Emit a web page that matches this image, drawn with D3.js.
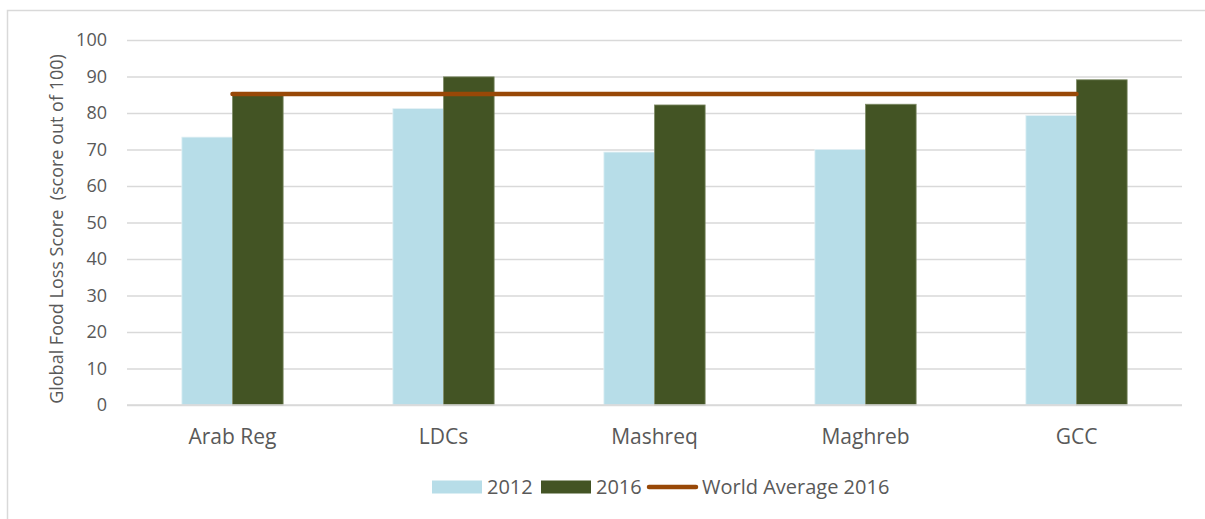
<!DOCTYPE html>
<html>
<head>
<meta charset="utf-8">
<script src="https://cdn.jsdelivr.net/npm/d3@7"></script>
<style>
  body { margin: 0; background: #fff; }
  svg text { font-family: "Open Sans", sans-serif; fill: #595959; }
</style>
</head>
<body>
<div id="chart"></div>
<script>
// chart data
var categories = ["Arab Reg", "LDCs", "Mashreq", "Maghreb", "GCC"];
var values2012 = [73.4, 81.2, 69.3, 70.0, 79.3];
var values2016 = [85.0, 89.9, 82.2, 82.4, 89.1];
var worldAvg2016 = [85.2, 85.2, 85.2, 85.2, 85.2];
var yTicks = [0, 10, 20, 30, 40, 50, 60, 70, 80, 90, 100];
var seriesNames = ["2012", "2016", "World Average 2016"];

var svgWidth = 1205;
var svgHeight = 519;

var margin = { top: 40, right: 23, bottom: 114, left: 127 };
var width = svgWidth - margin.left - margin.right;
var height = svgHeight - margin.top - margin.bottom;

var colors = { c2012: "#b7dde8", c2016: "#435424", avg: "#984807", grid: "#d9d9d9" };

var $svg = d3.select("#chart").append("svg")
  .attr("width", svgWidth)
  .attr("height", svgHeight);

// outer chart frame
$svg.append("rect")
  .attr("x", 7.5).attr("y", 10.5)
  .attr("width", svgWidth).attr("height", svgHeight)
  .attr("fill", "none")
  .attr("stroke", colors.grid)
  .attr("stroke-width", 1.5);

var chartGroup = $svg.append("g")
  .attr("transform", `translate(${margin.left}, ${margin.top})`);

var x = d3.scaleBand().domain(categories).range([0, width]);
var y = d3.scaleLinear().domain([0, 100]).range([height, 0]);
var barW = x.bandwidth() * 0.24;

// gridlines + y labels
var yAxis = d3.axisLeft(y).tickValues(yTicks).tickSize(-width).tickPadding(20);
var yG = chartGroup.append("g").call(yAxis);
yG.select(".domain").remove();
yG.selectAll(".tick line").attr("stroke", colors.grid).attr("stroke-width", 1.5);
yG.selectAll(".tick text").attr("font-size", "18px").attr("fill", "#595959");

// 2012 bars
chartGroup.selectAll("rect.b2012")
  .data(values2012)
  .enter().append("rect")
  .attr("class", "b2012")
  .attr("x", (d, i) => x(categories[i]) + x.bandwidth() / 2 - barW)
  .attr("y", d => y(d))
  .attr("width", barW)
  .attr("height", d => height - y(d))
  .attr("fill", colors.c2012)
  .attr("stroke", "#e4f1f5")
  .attr("stroke-width", 0.8);

// 2016 bars
chartGroup.selectAll("rect.b2016")
  .data(values2016)
  .enter().append("rect")
  .attr("class", "b2016")
  .attr("x", (d, i) => x(categories[i]) + x.bandwidth() / 2)
  .attr("y", d => y(d))
  .attr("width", barW)
  .attr("height", d => height - y(d))
  .attr("fill", colors.c2016)
  .attr("stroke", "#7e8b66")
  .attr("stroke-width", 0.8);

// baseline
chartGroup.append("line")
  .attr("x1", 0).attr("x2", width)
  .attr("y1", height).attr("y2", height)
  .attr("stroke", colors.grid).attr("stroke-width", 1.5);

// x labels
var xAxis = d3.axisBottom(x).tickSize(0).tickPadding(22);
var xG = chartGroup.append("g").attr("transform", `translate(0, ${height})`).call(xAxis);
xG.select(".domain").remove();
xG.selectAll(".tick text").attr("font-size", "21px").attr("fill", "#595959")
  .attr("dy", null).attr("y", 39);

// world average line
var line = d3.line()
  .x((d, i) => x(categories[i]) + x.bandwidth() / 2)
  .y(d => y(d));
chartGroup.append("path")
  .datum(worldAvg2016)
  .attr("d", line)
  .attr("fill", "none")
  .attr("stroke", colors.avg)
  .attr("stroke-width", 4.5)
  .attr("stroke-linecap", "round");

// y axis title
$svg.append("text")
  .attr("transform", "translate(63, 229) rotate(-90)")
  .attr("text-anchor", "middle")
  .attr("font-size", "18px")
  .text("Global Food Loss Score  (score out of 100)")
  .attr("xml:space", "preserve")
  .style("white-space", "pre");

// legend
var legend = $svg.append("g").attr("transform", "translate(432, 487)");
var legendItems = [
  { name: seriesNames[0], type: "rect", color: colors.c2012, x: 0 },
  { name: seriesNames[1], type: "rect", color: colors.c2016, x: 109 },
  { name: seriesNames[2], type: "line", color: colors.avg, x: 215 }
];
legendItems.forEach(function(item) {
  var g = legend.append("g").attr("transform", `translate(${item.x}, 0)`);
  if (item.type === "rect") {
    g.append("rect").attr("x", 0).attr("y", -6.5).attr("width", 50).attr("height", 13).attr("fill", item.color);
  } else {
    g.append("line").attr("x1", 2).attr("x2", 49).attr("y1", 0).attr("y2", 0)
      .attr("stroke", item.color).attr("stroke-width", 4.5).attr("stroke-linecap", "round");
  }
  g.append("text").attr("x", 55).attr("y", 7).attr("font-size", "20px").text(item.name);
});
</script>
</body>
</html>
